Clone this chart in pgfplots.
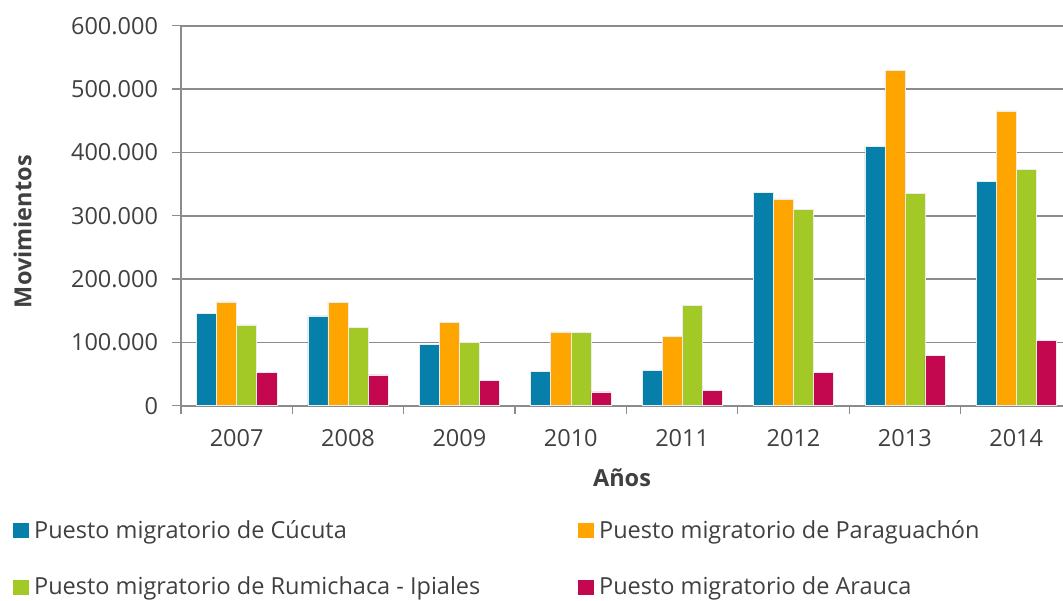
\documentclass[border=0pt]{standalone}
\usepackage{pgfplots}
\pgfplotsset{compat=1.18}
\usepackage{fontspec}
\setmainfont{Open Sans}
\definecolor{cblue}{RGB}{6,127,170}
\definecolor{corange}{RGB}{255,165,0}
\definecolor{cgreen}{RGB}{163,201,38}
\definecolor{cpink}{RGB}{195,8,80}
\definecolor{txt}{RGB}{64,64,64}
\definecolor{gridc}{RGB}{140,140,140}
\begin{document}
\fontsize{23.5bp}{28bp}\selectfont
\begin{tikzpicture}
\path[use as bounding box] (-181bp,-195.3bp) rectangle (882bp,405.7bp);
\begin{axis}[
  at={(0,0)}, anchor=south west,
  scale only axis, width=882bp, height=380bp,
  xmin=-0.5, xmax=7.42, ymin=0, ymax=600000,
  axis y line*=left, axis x line*=bottom,
  axis line style={gridc, line width=1.3bp},
  ybar=0pt, bar width=0.18,
  xtick={0,...,7},
  xticklabels={2007,2008,2009,2010,2011,2012,2013,2014},
  major x tick style={draw=none},
  minor xtick={-0.5,0.5,...,7.5},
  minor x tick style={gridc, line width=1.3bp},
  tick align=outside, major tick length=9bp, minor tick length=8bp,
  ytick={0,100000,...,600000},
  major y tick style={gridc, line width=1.3bp},
  ymajorgrids, grid style={gridc, line width=1.6bp},
  scaled y ticks=false,
  /pgf/number format/.cd, fixed, 1000 sep={.}, assume math mode=true,
  /pgfplots/.cd,
  ticklabel style={text=txt, font=\fontsize{23.5bp}{28bp}\selectfont},
  yticklabel style={anchor=east, xshift=-6bp},
  xticklabel style={anchor=north, yshift=-7bp},
  xlabel={\textbf{Años}},
  ylabel={\textbf{Movimientos}},
  label style={text=txt, font=\fontsize{23.5bp}{28bp}\selectfont},
  xlabel style={at={(axis description cs:0.5,-0.19)}, anchor=center},
  ylabel style={at={(axis description cs:-0.1797,0.458)}, anchor=center, rotate=0},
  legend columns=2,
  legend style={at={(axis description cs:-0.1905,-0.2955)}, anchor=north west,
    draw=none, fill=none, inner sep=0pt, text=txt,
    font=\fontsize{23.5bp}{28bp}\selectfont,
    row sep=31bp, column sep=0bp},
  legend cell align=left,
  legend image code/.code={\fill[#1,draw=none] (0bp,-7.5bp) rectangle (16bp,7.5bp);},
  every axis plot/.append style={draw=white!85!gray, line width=0.5bp},
]
\addplot[fill=cblue] coordinates {(0,145500) (1,142000) (2,96300) (3,54000) (4,55600) (5,336500) (6,409000) (7,354000)};
\addplot[fill=corange] coordinates {(0,164000) (1,163500) (2,131700) (3,116400) (4,109500) (5,326500) (6,529600) (7,465600)};
\addplot[fill=cgreen] coordinates {(0,127500) (1,124000) (2,100000) (3,115300) (4,158700) (5,309500) (6,335000) (7,373500)};
\addplot[fill=cpink] coordinates {(0,53000) (1,48700) (2,40000) (3,22000) (4,24300) (5,52900) (6,79900) (7,103200)};
\legend{\makebox[545bp][l]{\hspace*{3bp}Puesto migratorio de Cúcuta},\hspace*{3bp}Puesto migratorio de Paraguachón,\makebox[545bp][l]{\hspace*{3bp}Puesto migratorio de Rumichaca - Ipiales},\hspace*{3bp}Puesto migratorio de Arauca}
\end{axis}
\end{tikzpicture}
\end{document}
